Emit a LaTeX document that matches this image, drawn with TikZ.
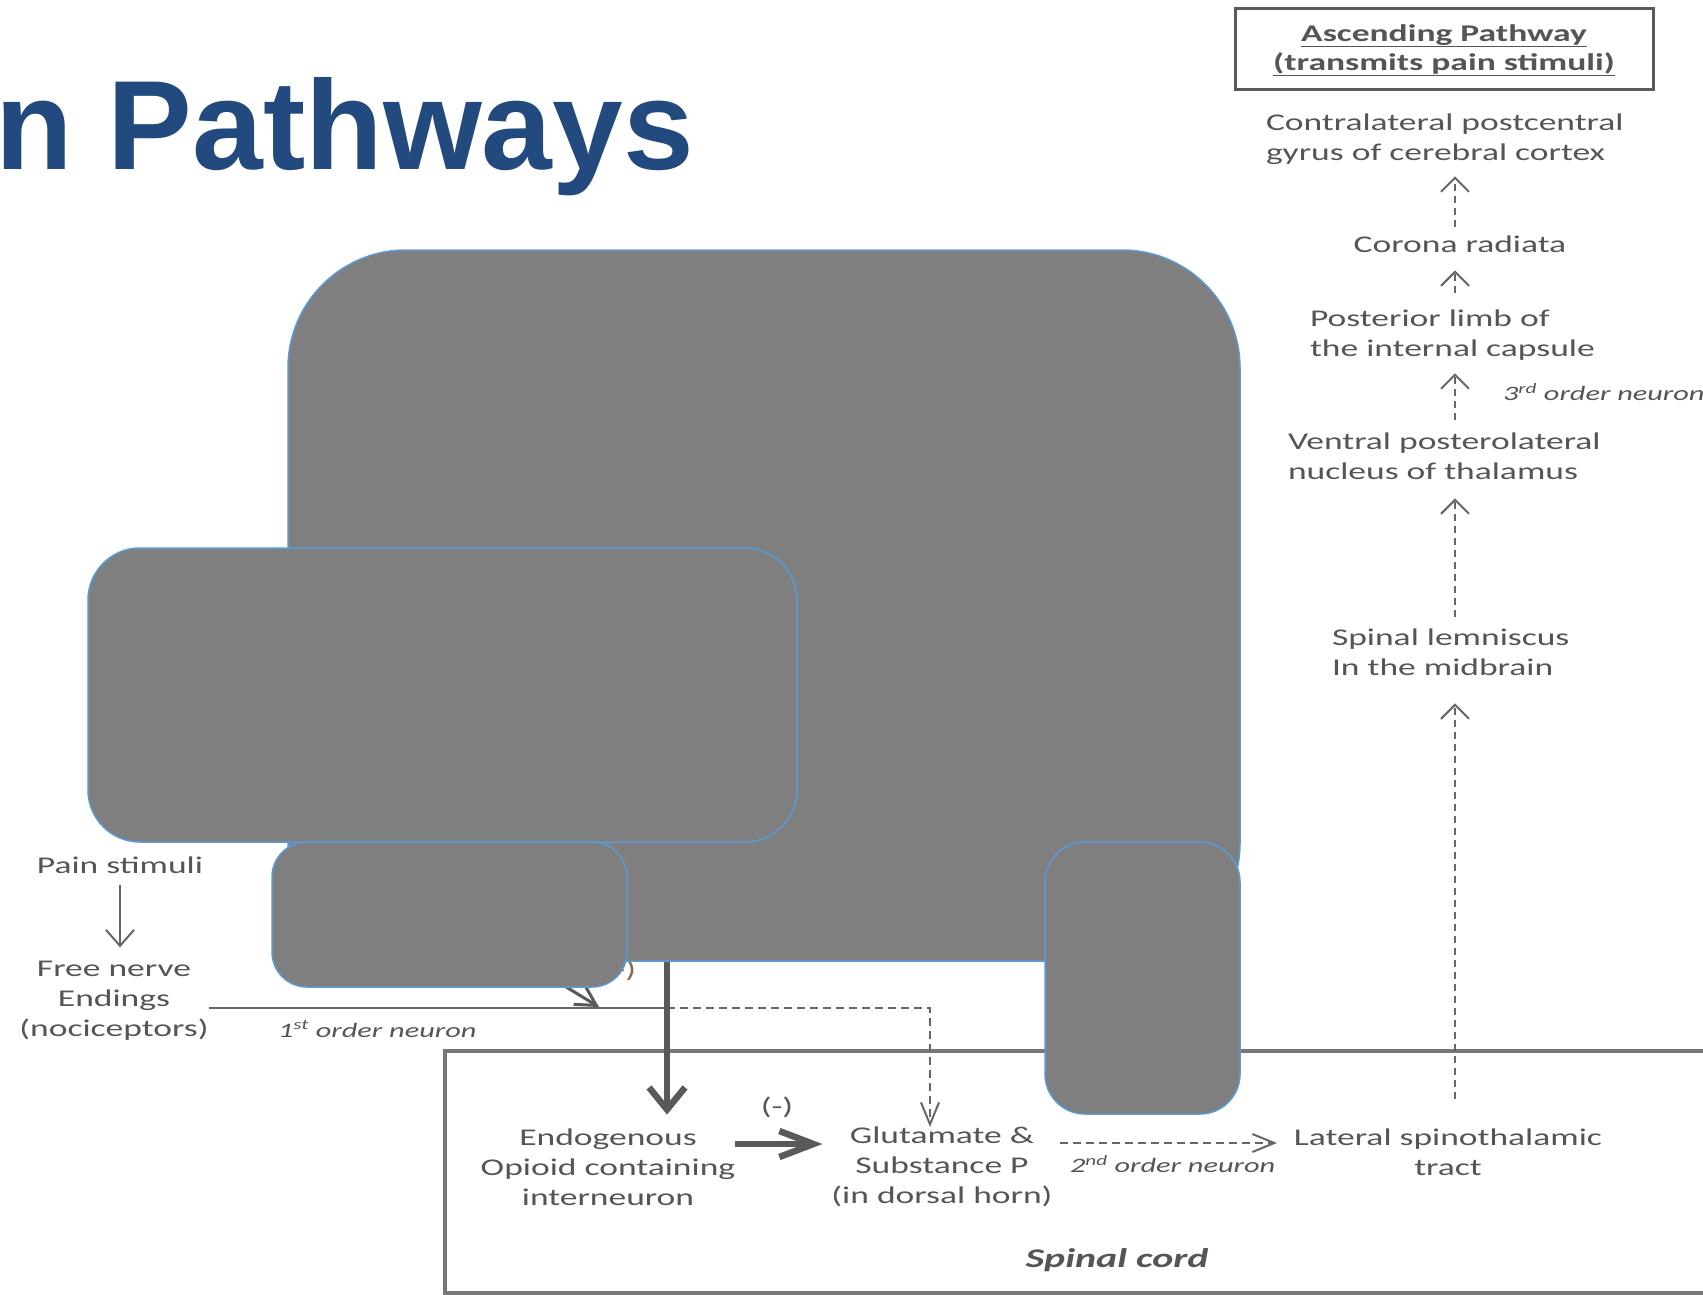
\documentclass[tikz,border=0pt]{standalone}
\usepackage{fontspec}
\setmainfont{Carlito}[FakeStretch=1.48]
\newfontfamily\titlefont{Liberation Sans}
\usetikzlibrary{arrows.meta,calc}
\definecolor{txtc}{HTML}{555555}
\definecolor{arrc}{HTML}{666666}
\definecolor{thickc}{HTML}{595959}
\definecolor{boxfill}{HTML}{7F7F7F}
\definecolor{boxedge}{HTML}{5B9BD5}
\definecolor{titlec}{HTML}{224A7E}
\definecolor{cordc}{HTML}{777777}
\definecolor{minusc}{HTML}{8A6A4A}
\pgfdeclarelayer{bg}
\pgfsetlayers{bg,main}
\begin{document}
\begin{tikzpicture}[x=1pt,y=-1pt,
  txt/.style={font=\fontsize{24}{30}\selectfont, text=txtc, inner sep=0pt, outer sep=0pt},
  lbl/.style={font=\fontsize{20.5}{24}\selectfont\itshape, text=txtc, inner sep=0pt, outer sep=0pt},
  graybox/.style={draw=boxedge, fill=boxfill, line width=1.5pt, inner sep=0pt, outer sep=0pt},
  vdash/.style={draw=arrc, line width=2pt, dash pattern=on 7pt off 5pt, -{Straight Barb[length=14pt,width=28pt]}},
  hdash/.style={draw=arrc, line width=2pt, dash pattern=on 8pt off 5pt, -{Straight Barb[length=22pt,width=18pt]}},
  thinarr/.style={draw=arrc, line width=2pt, -{Straight Barb[length=16pt,width=28pt]}},
  thinline/.style={draw=arrc, line width=2.5pt},
  thickv/.style={draw=thickc, line width=6.5pt, -{Straight Barb[length=22pt,width=36pt]}},
  thickh/.style={draw=thickc, line width=6.5pt, -{Straight Barb[length=34pt,width=26pt]}},
  hitarr/.style={draw=thickc, line width=3pt, -{Straight Barb[length=20pt,width=22pt]}},
  cordbox/.style={draw=cordc, line width=4pt},
  ascbox/.style={draw=thickc, line width=2.5pt, inner sep=0pt, outer sep=0pt}
]
\useasboundingbox (0,0) rectangle (1703,1295);
\begin{pgfonlayer}{bg}
  \fill[white] (0,0) rectangle (1703,1295);
\end{pgfonlayer}

% title (cut at the left edge as in the reference)
\node[font=\titlefont\fontsize{127}{150}\selectfont\bfseries, text=titlec, anchor=base west, inner sep=0pt] (title) at (-5,170) {n Pathways};

% ascending pathway box
\node[ascbox, minimum width=418pt, minimum height=81pt] (asc) at (1444.5,49) {};
\node[txt, font=\fontsize{24}{29}\selectfont\bfseries, align=center] (asctxt) at (1444,50) {\underline{Ascending Pathway}\\\underline{(transmits pain stimuli)}};

% ascending chain
\node[txt, anchor=west, align=left] (ctx) at (1266,139) {Contralateral postcentral\\gyrus of cerebral cortex};
\node[txt] (cr) at (1460,244) {Corona radiata};
\node[txt, anchor=west, align=left] (plic) at (1310,335) {Posterior limb of\\the internal capsule};
\node[lbl, anchor=west] (o3) at (1503,392) {3\textsuperscript{rd} order neuron};
\node[txt, anchor=west, align=left] (vpl) at (1288,456) {Ventral posterolateral\\nucleus of thalamus};
\node[txt, anchor=west, align=left] (sl) at (1332,652) {Spinal lemniscus\\In the midbrain};
\node[txt, align=center] (lst) at (1448,1152) {Lateral spinothalamic\\tract};

% lower part
\node[txt] (pain) at (120,865) {Pain stimuli};
\node[txt, align=center] (fne) at (114,1001) {Free nerve\\Endings\\(nociceptors)};
\node[lbl, anchor=west] (o1) at (278,1029) {1\textsuperscript{st} order neuron};
\node[txt, align=center] (endo) at (608,1167) {Endogenous\\Opioid containing\\interneuron};
\node[txt, align=center] (glu) at (942,1167) {Glutamate \&\\Substance P\\(in dorsal horn)};
\node[lbl, anchor=west] (o2) at (1070,1164) {2\textsuperscript{nd} order neuron};
\node[txt] (m1) at (777,1107) {(-)};
\node[txt, text=minusc] (m2) at (620,970) {(-)};
\node[font=\fontsize{27}{32}\selectfont\bfseries\itshape, text=txtc, inner sep=0pt] (sc) at (1117,1260) {Spinal cord};

% gray covering boxes
\node[graybox, rounded corners=118pt, minimum width=952pt, minimum height=711pt] (A) at (764,605.5) {};
\node[graybox, rounded corners=52pt, minimum width=709pt, minimum height=294pt] (B) at (442.5,695) {};
\node[graybox, rounded corners=35pt, minimum width=355pt, minimum height=145pt] (C) at (449.5,914.5) {};
\node[graybox, rounded corners=40pt, minimum width=195pt, minimum height=272pt] (D) at (1142.5,978) {};

\coordinate (ax) at (1455,0);
\coordinate (vx) at (667,0);
\coordinate (split) at (667,1008);
\coordinate (turn) at (930,1008);
\coordinate (hid) at (499,946);
\coordinate (hit) at (599,1007);

\begin{pgfonlayer}{bg}
  \draw[cordbox] (445,1051) rectangle (1760,1293);
  \draw[vdash, shorten <=9pt, shorten >=12pt] (ax |- cr.north) -- (ax |- ctx.south);
  \draw[vdash, shorten <=17pt, shorten >=18pt] (ax |- plic.north) -- (ax |- cr.south);
  \draw[vdash, shorten <=13pt, shorten >=13pt] (ax |- vpl.north) -- (ax |- plic.south);
  \draw[vdash, shorten <=12pt, shorten >=19pt] (ax |- sl.north) -- (ax |- vpl.south);
  \draw[vdash, shorten <=30pt, shorten >=28pt] (ax |- lst.north) -- (ax |- sl.south);
  \draw[thinarr, shorten <=12pt, shorten >=14pt] (pain.south) -- (pain.south |- fne.north);
  \draw[thinline] (fne.east |- split) -- (split);
  \draw[hdash] (split) -- (turn) -- (turn |- glu.north);
  \draw[hitarr] (hid) -- (hit);
  \draw[thickv, shorten >=14pt] (vx |- A.south) -- (vx |- endo.north);
  \draw[thickh, shorten >=9pt] ([yshift=23pt]endo.east) -- ([yshift=23pt]endo.east -| glu.west);
  \draw[hdash, shorten <=7pt, shorten >=17pt] ([yshift=24pt]glu.east) -- ([yshift=24pt]glu.east -| lst.west);
\end{pgfonlayer}
\end{tikzpicture}
\end{document}
